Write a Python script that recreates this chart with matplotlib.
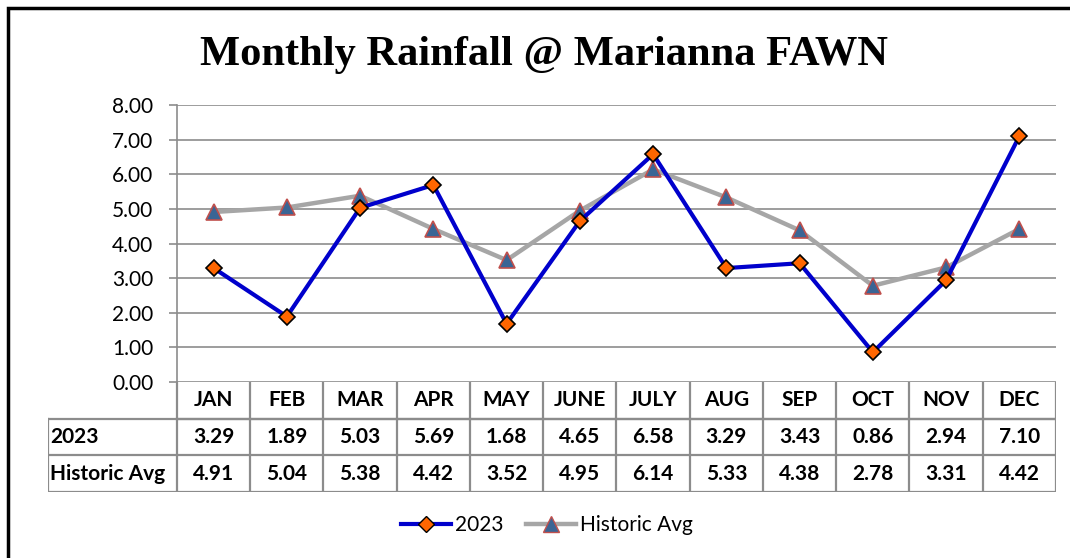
import matplotlib.pyplot as plt
from matplotlib.lines import Line2D
from matplotlib.patches import Rectangle

months = ['JAN', 'FEB', 'MAR', 'APR', 'MAY', 'JUNE', 'JULY', 'AUG', 'SEP', 'OCT', 'NOV', 'DEC']
rain_2023 = [3.29, 1.89, 5.03, 5.69, 1.68, 4.65, 6.58, 3.29, 3.43, 0.86, 2.94, 7.10]
historic_avg = [4.91, 5.04, 5.38, 4.42, 3.52, 4.95, 6.14, 5.33, 4.38, 2.78, 3.31, 4.42]
yticks = [0, 1, 2, 3, 4, 5, 6, 7, 8]

W, H = 1070, 558
grid_col = '#8c8c8c'
blue = '#0000cc'
gray = '#a6a6a6'
lab_font = 'Lato'

fig = plt.figure(figsize=(W / 100, H / 100), dpi=100)

# outer chart border (only top and left are visible in the crop)
fig.patches.append(Rectangle((8 / W, -0.1), 1.2, (H - 8) / H + 0.1, transform=fig.transFigure,
                             fill=False, edgecolor='black', linewidth=2.5))

fig.text(544 / W, 1 - 55 / H, 'Monthly Rainfall @ Marianna FAWN', ha='center', va='center',
         fontsize=30.6, fontweight='bold', family='Liberation Serif')

# plot area
x0, x1 = 177, 1056
y_top, y_bot = 105, 382
ax = fig.add_axes([x0 / W, 1 - y_bot / H, (x1 - x0) / W, (y_bot - y_top) / H])
x = list(range(len(months)))
ax.plot(x, historic_avg, color=gray, linewidth=3.2, marker='^', markersize=12,
        markerfacecolor='#3a6595', markeredgecolor='#c0504d', markeredgewidth=1.2, zorder=3)
ax.plot(x, rain_2023, color=blue, linewidth=3.0, marker='D', markersize=8,
        markerfacecolor='#ff6600', markeredgecolor='black', markeredgewidth=1.2, zorder=4)
ax.set_xlim(-0.5, 11.5)
ax.set_ylim(0, 8)
ax.set_yticks(yticks)
ax.set_yticklabels(['%.2f' % v for v in yticks], fontsize=15, family=lab_font)
ax.set_xticks([])
ax.grid(axis='y', color=grid_col, linewidth=1.2)
ax.set_axisbelow(True)
for s in ['top', 'right', 'bottom']:
    ax.spines[s].set_visible(False)
ax.spines['left'].set_color(grid_col)
ax.spines['left'].set_linewidth(1.2)
ax.tick_params(axis='y', color=grid_col, length=6, width=1.2, pad=11)

# data table under the plot
t_left, t_bot = 48, 492
col_w = (x1 - x0) / 12
lab_w = (x0 - t_left) / col_w
tab = fig.add_axes([t_left / W, 1 - t_bot / H, (x1 - t_left) / W, (t_bot - y_bot) / H])
tab.set_xlim(-0.5 - lab_w, 11.5)
tab.set_ylim(0, 3)
tab.axis('off')
lw = 1.6
fs = 15
# header row lines
for i in range(13):
    tab.plot([i - 0.5, i - 0.5], [2, 3], color=grid_col, linewidth=lw)
tab.plot([-0.5, 11.5], [2, 2], color=grid_col, linewidth=lw)
# body lines
for yy in [0, 1, 2]:
    tab.plot([-0.5 - lab_w, 11.5], [yy, yy], color=grid_col, linewidth=lw)
for xx in [-0.5 - lab_w] + [i - 0.5 for i in range(13)]:
    tab.plot([xx, xx], [0, 2], color=grid_col, linewidth=lw)
for i, m in enumerate(months):
    tab.text(i, 2.5, m, ha='center', va='center', fontsize=fs, fontweight='bold', family=lab_font)
    tab.text(i, 1.5, '%.2f' % rain_2023[i], ha='center', va='center', fontsize=fs,
             fontweight='bold', family=lab_font)
    tab.text(i, 0.5, '%.2f' % historic_avg[i], ha='center', va='center', fontsize=fs,
             fontweight='bold', family=lab_font)
tab.text(-0.47 - lab_w, 1.5, '2023', ha='left', va='center', fontsize=fs, fontweight='bold', family=lab_font)
tab.text(-0.47 - lab_w, 0.5, 'Historic Avg', ha='left', va='center', fontsize=fs,
         fontweight='bold', family=lab_font)

# legend
handles = [
    Line2D([], [], color=blue, linewidth=3.0, marker='D', markersize=8,
           markerfacecolor='#ff6600', markeredgecolor='black'),
    Line2D([], [], color=gray, linewidth=3.2, marker='^', markersize=12,
           markerfacecolor='#3a6595', markeredgecolor='#c0504d'),
]
fig.legend(handles, ['2023', 'Historic Avg'], loc='center', bbox_to_anchor=(547 / W, 1 - 525 / H),
           ncol=2, frameon=False, prop={'family': lab_font, 'size': 15}, handlelength=2.4,
           handletextpad=0.2, columnspacing=1.1)

fig.savefig('out.png', dpi=100)
